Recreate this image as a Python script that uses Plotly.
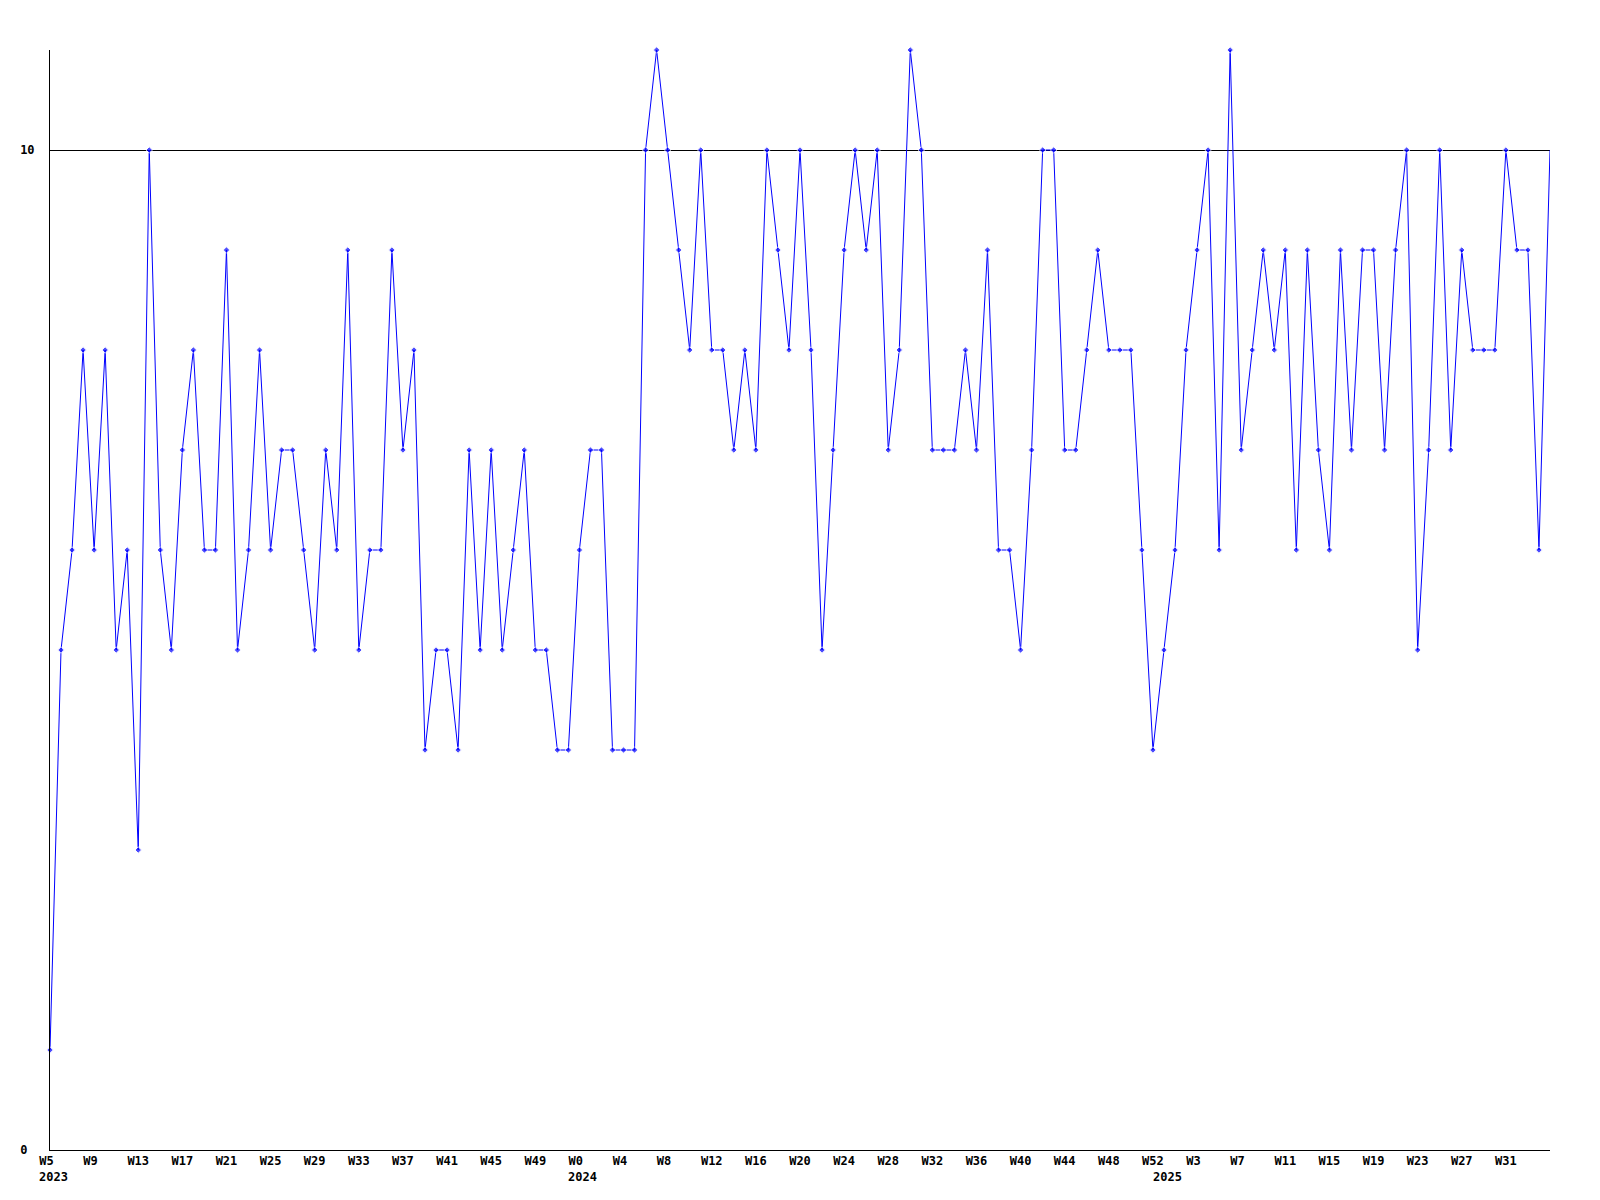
import plotly.graph_objects as go

# ---- data ----
years = [2023] * 48 + [2024] * 53 + [2025] * 36
weeks = list(range(5, 53)) + list(range(0, 53)) + list(range(0, 36))
categories = [f"{y}-W{w:02d}" for y, w in zip(years, weeks)]

values = [
    1, 5, 6, 8, 6, 8, 5, 6, 3, 10, 6, 5, 7, 8, 6, 6, 9, 5, 6, 8, 6, 7, 7, 6,
    5, 7, 6, 9, 5, 6, 6, 9, 7, 8, 4, 5, 5, 4, 7, 5, 7, 5, 6, 7, 5, 5, 4, 4,
    6, 7, 7, 4, 4, 4, 10, 11, 10, 9, 8, 10, 8, 8, 7, 8, 7, 10, 9, 8, 10, 8,
    5, 7, 9, 10, 9, 10, 7, 8, 11, 10, 7, 7, 7, 8, 7, 9, 6, 6, 5, 7, 10, 10,
    7, 7, 8, 9, 8, 8, 8, 6, 4,
    5, 6, 8, 9, 10, 6, 11, 7, 8, 9, 8, 9, 6, 9, 7, 6, 9, 7, 9, 9, 7, 9, 10,
    5, 7, 10, 7, 9, 8, 8, 8, 10, 9, 9, 6, 10,
]

tick_labels = ["W5", "W9", "W13", "W17", "W21", "W25", "W29", "W33", "W37",
               "W41", "W45", "W49", "W0", "W4", "W8", "W12", "W16", "W20",
               "W24", "W28", "W32", "W36", "W40", "W44", "W48", "W52", "W3",
               "W7", "W11", "W15", "W19", "W23", "W27", "W31"]
tick_categories = categories[::4][:len(tick_labels)]

year_labels = ["2023", "2024", "2025"]
year_categories = ["2023-W05", "2024-W00", "2025-W00"]

y_ticks = [0, 10]
y_tick_labels = ["0", "10"]

# ---- figure ----
FONT = dict(family="DejaVu Sans Mono", size=12, color="black", weight="bold")
NB = "\u00a0"

marker_sizes = [5] * (len(values) - 1) + [0]

fig = go.Figure()
fig.add_trace(go.Scatter(
    x=categories, y=values, mode="lines+markers",
    line=dict(color="#0000ff", width=1),
    marker=dict(symbol="diamond", size=marker_sizes, color="#0000ff"),
    cliponaxis=False, hoverinfo="x+y", showlegend=False,
))

for lab, cat in zip(year_labels, year_categories):
    fig.add_annotation(x=cat, xref="x", y=0, yref="paper", text=lab,
                       showarrow=False, xanchor="left", yanchor="top",
                       xshift=-12, yshift=-19, font=FONT, borderpad=0)

# the page body adds an 8px offset; size/margins compensate for it
fig.update_layout(
    width=1584, height=1184,
    margin=dict(l=42, r=42, t=42, b=42),
    paper_bgcolor="white", plot_bgcolor="white",
    font=FONT,
    xaxis=dict(
        type="category", range=[0, len(values) - 1],
        tickmode="array", tickvals=tick_categories,
        ticktext=[t + NB * (3 - len(t)) for t in tick_labels],
        ticks="", showgrid=False, zeroline=False,
        showline=True, linecolor="black", linewidth=1,
        tickfont=FONT, tickangle=0,
    ),
    yaxis=dict(
        range=[0, 11], tickmode="array", tickvals=y_ticks,
        ticktext=[t + NB * (2 - len(t)) for t in y_tick_labels],
        ticks="", showgrid=True, gridcolor="black", gridwidth=1,
        zeroline=False, showline=True, linecolor="black", linewidth=1,
        tickfont=FONT, ticklabelstandoff=12,
    ),
)

fig.write_html("out.html")
